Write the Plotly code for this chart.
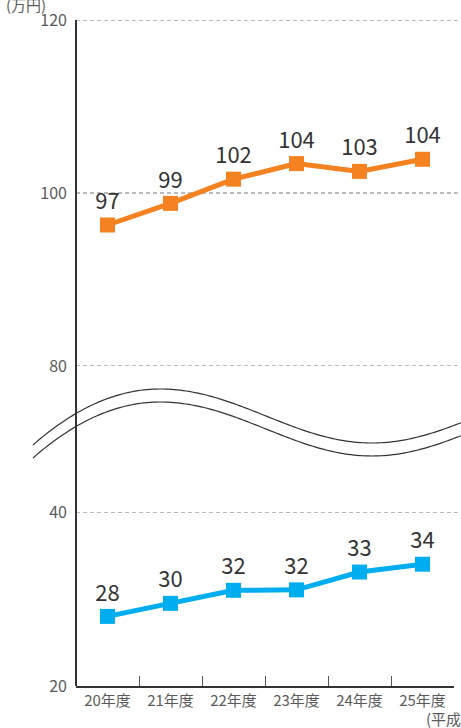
import math
import plotly.graph_objects as go

# ---- data ----
categories = ["20年度", "21年度", "22年度", "23年度", "24年度", "25年度"]
orange_values = [96.3, 98.8, 101.6, 103.4, 102.5, 103.9]
orange_labels = ["97", "99", "102", "104", "103", "104"]
blue_values = [28.0, 29.5, 31.0, 31.05, 33.1, 34.0]
blue_labels = ["28", "30", "32", "32", "33", "34"]
top_ticks = [80, 100, 120]
bottom_ticks = [20, 40]

ORANGE = "#F58220"
BLUE = "#00AEEF"
FONT = "Noto Sans CJK JP"

W, H = 461, 728
L, R, T, B = 76, 7, 20, 42
PW = W - L - R
PH = H - T - B


def px(x):
    return (x - L) / PW


def py(y):
    return (H - B - y) / PH


fig = go.Figure()

fig.add_trace(go.Scatter(
    x=categories, y=orange_values, xaxis="x", yaxis="y2",
    mode="lines+markers+text", text=orange_labels, textposition="top center",
    textfont=dict(size=22, color="#333333", family=FONT),
    line=dict(color=ORANGE, width=5),
    marker=dict(symbol="square", size=15, color=ORANGE),
    cliponaxis=False, showlegend=False, hoverinfo="skip",
))
fig.add_trace(go.Scatter(
    x=categories, y=blue_values, xaxis="x", yaxis="y",
    mode="lines+markers+text", text=blue_labels, textposition="top center",
    textfont=dict(size=22, color="#333333", family=FONT),
    line=dict(color=BLUE, width=5),
    marker=dict(symbol="square", size=15, color=BLUE),
    cliponaxis=False, showlegend=False, hoverinfo="skip",
))

axis_common = dict(showgrid=False, zeroline=False, showline=False, ticks="",
                   tickfont=dict(size=16, color="#5a5a5a", family=FONT),
                   ticklabelstandoff=8, fixedrange=True, automargin=False)

y_bottom_top = py(512)
y_top_bottom = py(366)

fig.update_layout(
    width=W, height=H,
    margin=dict(l=L, r=R, t=T, b=B, autoexpand=False),
    paper_bgcolor="white", plot_bgcolor="white",
    font=dict(family=FONT),
    xaxis=dict(type="category", range=[-0.5, 5.5], anchor="y",
               showline=True, linecolor="#333333", linewidth=2,
               ticks="inside", tickson="boundaries", ticklen=10,
               tickcolor="#555555", tickwidth=1, showgrid=False,
               automargin=False, fixedrange=True,
               tickfont=dict(size=15, color="#5a5a5a", family=FONT)),
    yaxis=dict(domain=[0, y_bottom_top], range=[20, 40],
               tickvals=bottom_ticks, **axis_common),
    yaxis2=dict(domain=[y_top_bottom, 1], range=[80, 120],
                tickvals=top_ticks, anchor="x", **axis_common),
)

shapes = []
grid_line = dict(color="#777777", width=1, dash="4px,3px")
for v in top_ticks:
    shapes.append(dict(type="line", xref="paper", yref="y2", x0=0, x1=1.01,
                       y0=v, y1=v, line=grid_line, layer="below"))
for v in bottom_ticks[1:]:
    shapes.append(dict(type="line", xref="paper", yref="y", x0=0, x1=1.01,
                       y0=v, y1=v, line=grid_line, layer="below"))

# y axis line spanning the whole height (through the break)
shapes.append(dict(type="line", xref="paper", yref="paper", x0=0, x1=0,
                   y0=0, y1=1, line=dict(color="#333333", width=2)))


# break wave lines (pixel-space curve)
def wave_y(x):
    if x < 160:
        return 389 + 0.00347 * (x - 160) ** 2
    return 416 - 27 * math.cos(math.pi * (x - 160) / 212)


xs = list(range(33, 462, 3)) + [461]
for off in (0, 13):
    d = ""
    for i, x in enumerate(xs):
        d += ("M " if i == 0 else " L ") + f"{px(x):.5f},{py(wave_y(x) + off):.5f}"
    shapes.append(dict(type="path", xref="paper", yref="paper", path=d,
                       line=dict(color="#333333", width=1.2)))

fig.update_layout(shapes=shapes)

fig.add_annotation(text="(万円)", xref="paper", yref="paper",
                   x=px(4), y=py(4), xanchor="left", yanchor="middle",
                   showarrow=False, font=dict(size=15, color="#5a5a5a", family=FONT))
fig.add_annotation(text="(平成)", xref="paper", yref="paper",
                   x=px(424), y=py(718), xanchor="left", yanchor="middle",
                   showarrow=False, font=dict(size=15, color="#5a5a5a", family=FONT))

fig.write_html("out.html",
               config={"displayModeBar": False, "staticPlot": True},
               post_script="document.body.style.margin='0';"
                           "document.body.style.overflow='hidden';")
